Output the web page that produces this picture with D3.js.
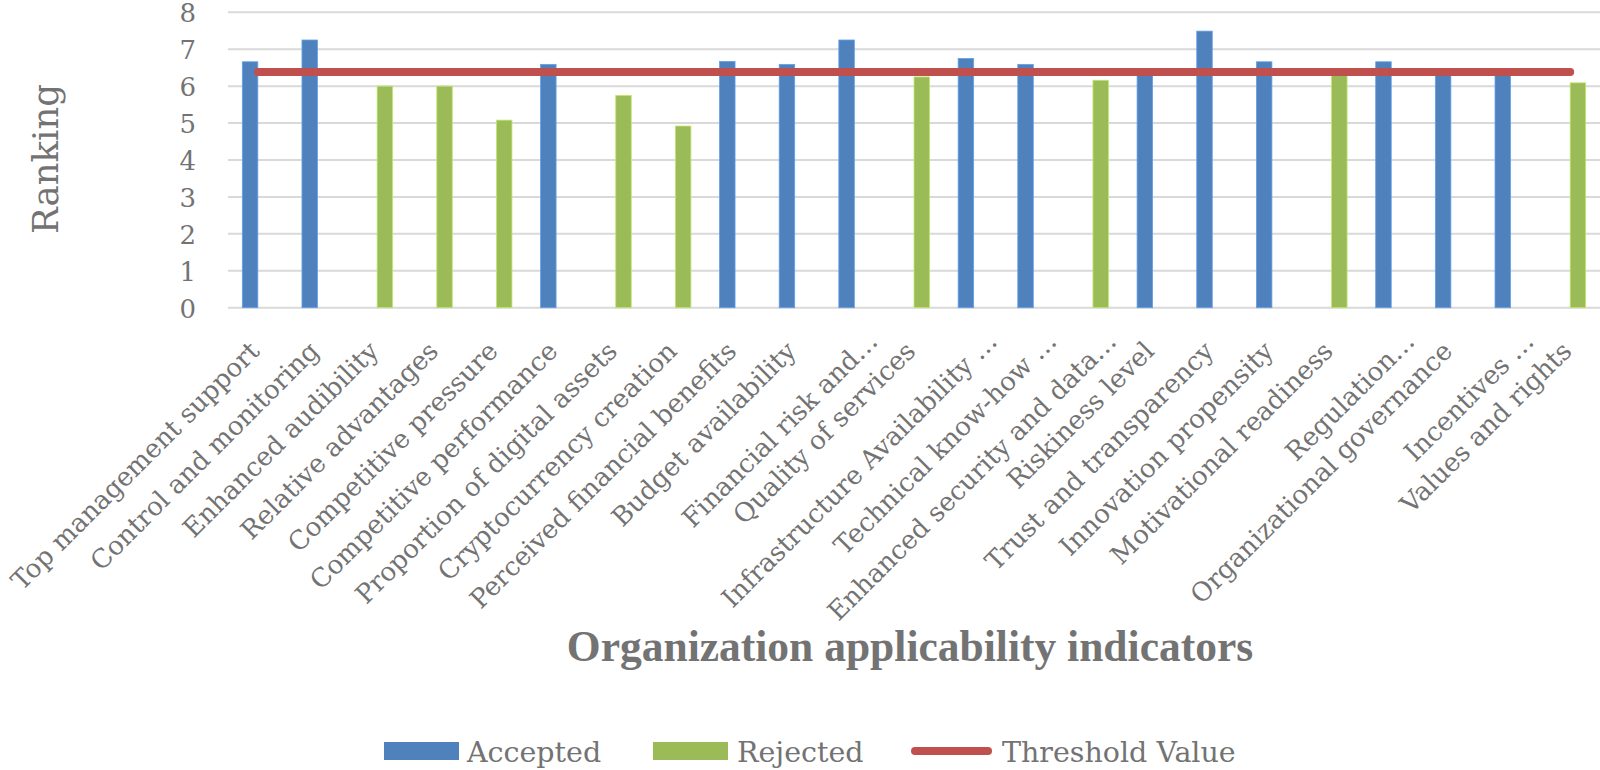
<!DOCTYPE html>
<html>
<head>
<meta charset="utf-8">
<script src="https://cdn.jsdelivr.net/npm/d3@7"></script>
<style>
  body { margin: 0; background: #fff; }
  text { fill: #737373; font-family: "DejaVu Serif", serif; }
  text.title { font-family: "Liberation Serif", serif; font-weight: bold; }
</style>
</head>
<body>
<div class="graph"></div>
<script>
  const categories = [
    "Top management support", "Control and monitoring", "Enhanced audibility",
    "Relative advantages", "Competitive pressure", "Competitive performance",
    "Proportion of digital assets", "Cryptocurrency creation", "Perceived financial benefits",
    "Budget availability", "Financial risk and…", "Quality of services",
    "Infrastructure Availability …", "Technical know-how …", "Enhanced security and data…",
    "Riskiness level", "Trust and transparency", "Innovation propensity",
    "Motivational readiness", "Regulation…", "Organizational governance",
    "Incentives …", "Values and rights"
  ];
  const accepted = [6.66, 7.25, null, null, null, 6.59, null, null, 6.67, 6.59, 7.25, null,
    6.75, 6.59, null, 6.42, 7.49, 6.66, null, 6.66, 6.42, 6.42, null];
  const rejected = [null, null, 6.0, 6.0, 5.08, null, 5.75, 4.92, null, null, null, 6.25,
    null, null, 6.16, null, null, null, 6.42, null, null, null, 6.09];
  const threshold = 6.38;
  const yTicks = [0, 1, 2, 3, 4, 5, 6, 7, 8];
  const seriesNames = ["Accepted", "Rejected", "Threshold Value"];
  const colors = { "Accepted": "#4f81bd", "Rejected": "#9bbb59", "Threshold Value": "#c0504d" };

  const margin = { top: 12.3, left: 228, right: 0 };
  const width = 1600 - margin.left - margin.right;
  const height = 295.4;

  const svg = d3.select('.graph')
    .append('svg')
    .attr('width', 1600)
    .attr('height', 770);

  const g = svg.append('g')
    .attr('transform', `translate(${margin.left},${margin.top})`);

  const xScale = d3.scaleBand()
    .domain(categories)
    .range([0, width])
    .paddingInner(0.48)
    .paddingOuter(0.24);

  const xSub = d3.scaleBand()
    .domain(["Accepted", "Rejected"])
    .range([0, xScale.bandwidth()]);

  const yScale = d3.scaleLinear()
    .domain([0, 8])
    .range([height, 0]);

  // gridlines
  g.selectAll('.grid')
    .data(yTicks)
    .enter()
    .append('line')
    .attr('x1', 0)
    .attr('x2', width)
    .attr('y1', d => yScale(d))
    .attr('y2', d => yScale(d))
    .attr('stroke', '#d9d9d9')
    .attr('stroke-width', 2);

  // y axis labels
  const yAxis = d3.axisLeft(yScale).tickValues(yTicks).tickSize(0).tickPadding(32);
  g.append('g')
    .attr('class', 'y-axis')
    .call(yAxis)
    .call(s => s.select('.domain').remove())
    .selectAll('text')
    .attr('font-size', 26)
    .attr('dy', '0.36em');

  const rows = categories.map((c, i) => ({ c, Accepted: accepted[i], Rejected: rejected[i] }));

  ["Accepted", "Rejected"].forEach(name => {
    g.selectAll('.bar-' + name)
      .data(rows.filter(d => d[name] != null))
      .enter()
      .append('rect')
      .attr('class', 'bar-' + name)
      .attr('fill', colors[name])
      .attr('stroke', d3.color(colors[name]).brighter(0.6))
      .attr('stroke-width', 0.8)
      .attr('x', d => xScale(d.c) + xSub(name))
      .attr('width', xSub.bandwidth())
      .attr('y', d => yScale(d[name]))
      .attr('height', d => height - yScale(d[name]));
  });

  // threshold line
  const line = d3.line()
    .x(d => xScale(d) + xScale.bandwidth() / 2)
    .y(() => yScale(threshold));

  g.append('path')
    .datum(categories)
    .attr('d', line)
    .attr('fill', 'none')
    .attr('stroke', colors["Threshold Value"])
    .attr('stroke-width', 8)
    .attr('stroke-linecap', 'round');

  // x labels (truncated ones sit a little further out, like the original)
  g.selectAll('.x-label')
    .data(categories)
    .enter()
    .append('text')
    .attr('class', 'x-label')
    .attr('font-size', 26)
    .attr('text-anchor', 'end')
    .attr('dx', d => d.endsWith('…') ? 14 : 0)
    .attr('transform', d => {
      const shift = d.endsWith('…') ? 12 : 0;
      return `translate(${xScale(d) + xScale.bandwidth() / 2 + 3 + shift},${height + 45}) rotate(-45)`;
    })
    .text(d => d);

  // axis titles
  svg.append('text')
    .attr('transform', 'translate(58,159) rotate(-90)')
    .attr('text-anchor', 'middle')
    .attr('font-size', 35.5)
    .text('Ranking');

  svg.append('text')
    .attr('class', 'title')
    .attr('x', 910)
    .attr('y', 661)
    .attr('text-anchor', 'middle')
    .attr('font-size', 43.5)
    .text('Organization applicability indicators');

  // legend
  const legendItems = [
    { name: seriesNames[0], x: 384, tx: 467 },
    { name: seriesNames[1], x: 653, tx: 737 },
    { name: seriesNames[2], x: 911, tx: 1002 }
  ];
  const legend = svg.append('g').attr('class', 'legend');

  legendItems.forEach(item => {
    if (item.name === "Threshold Value") {
      legend.append('line')
        .attr('x1', item.x + 4).attr('x2', item.x + 77)
        .attr('y1', 751).attr('y2', 751)
        .attr('stroke', colors[item.name])
        .attr('stroke-width', 8)
        .attr('stroke-linecap', 'round');
    } else {
      legend.append('rect')
        .attr('x', item.x).attr('y', 742)
        .attr('width', 75).attr('height', 18)
        .attr('fill', colors[item.name]);
    }
    legend.append('text')
      .attr('x', item.tx)
      .attr('y', 762)
      .attr('font-size', 28.5)
      .text(item.name);
  });
</script>
</body>
</html>
